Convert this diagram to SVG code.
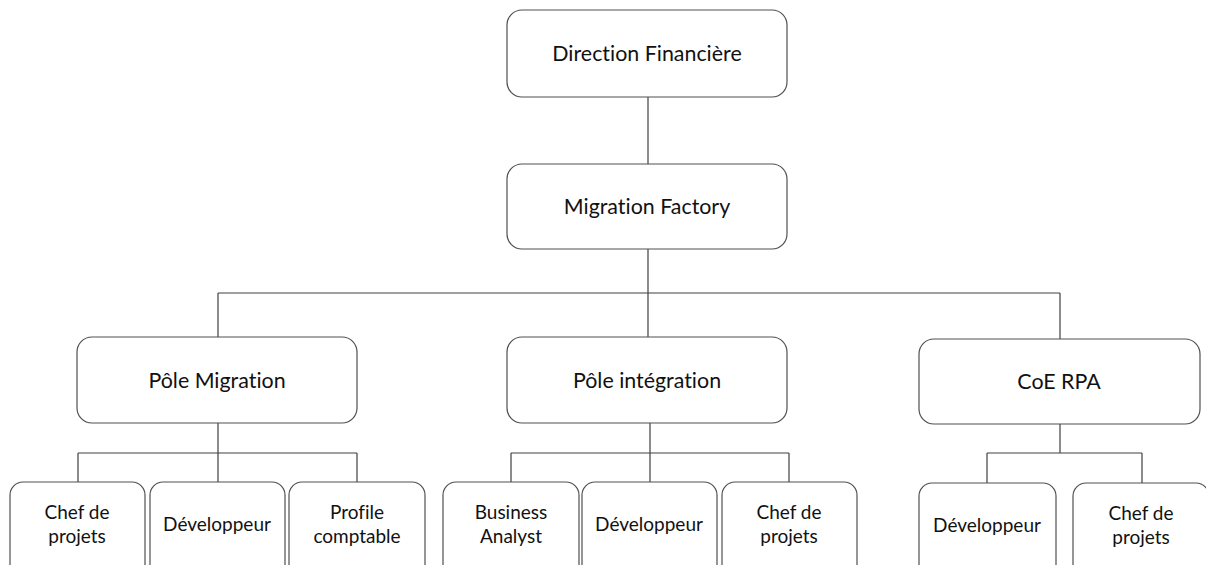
<svg xmlns="http://www.w3.org/2000/svg" width="1206" height="565" viewBox="0 0 1206 565">
  <style>
    .box { fill: #ffffff; stroke: #505050; stroke-width: 1.2; }
    .link { fill: none; stroke: #404040; stroke-width: 1.2; }
    text { font-family: "Lato", "Open Sans", sans-serif; font-size: 21.4px; fill: #111111; text-anchor: middle; font-variant-ligatures: none; }
    .small { font-size: 19px; }
  </style>
  <rect width="1206" height="565" fill="#ffffff"/>

  <!-- connectors -->
  <g id="connectors">
    <path class="link" d="M648 97 V164"/>
    <path class="link" d="M648 249 V293 M218 293 H1060 M218 293 V337 M648 293 V337 M1060 293 V339"/>
    <path class="link" d="M218 423 V482 M78 453 H357 M78 453 V482 M357 453 V482"/>
    <path class="link" d="M650 423 V482 M511 453 H789 M511 453 V482 M789 453 V482"/>
    <path class="link" d="M1060 424 V453 M987 453 H1142 M987 453 V483 M1142 453 V483"/>
  </g>

  <g id="direction-financiere">
    <rect class="box" x="507" y="10" width="280" height="87" rx="15"/>
    <text x="647" y="61">Direction Financière</text>
  </g>
  <g id="migration-factory">
    <rect class="box" x="507" y="164" width="280" height="85" rx="15"/>
    <text x="647" y="214">Migration Factory</text>
  </g>

  <g id="pole-migration">
    <rect class="box" x="77" y="337" width="280" height="86" rx="15"/>
    <text x="217" y="388">Pôle Migration</text>
  </g>
  <g id="pole-integration">
    <rect class="box" x="507" y="337" width="280" height="86" rx="15"/>
    <text x="647" y="388">Pôle intégration</text>
  </g>
  <g id="coe-rpa">
    <rect class="box" x="919" y="339" width="281" height="85" rx="15"/>
    <text x="1059" y="389">CoE RPA</text>
  </g>

  <!-- Pôle Migration team -->
  <g id="pm-chef-projets">
    <rect class="box" x="10" y="482" width="135" height="100" rx="13"/>
    <text class="small" x="77" y="519">Chef de</text>
    <text class="small" x="77" y="543">projets</text>
  </g>
  <g id="pm-developpeur">
    <rect class="box" x="150" y="482" width="135" height="100" rx="13"/>
    <text class="small" x="217" y="531">Développeur</text>
  </g>
  <g id="pm-profile-comptable">
    <rect class="box" x="289" y="482" width="136" height="100" rx="13"/>
    <text class="small" x="357" y="519">Profile</text>
    <text class="small" x="357" y="543">comptable</text>
  </g>

  <!-- Pôle intégration team -->
  <g id="pi-business-analyst">
    <rect class="box" x="443" y="482" width="136" height="100" rx="13"/>
    <text class="small" x="511" y="519">Business</text>
    <text class="small" x="511" y="543">Analyst</text>
  </g>
  <g id="pi-developpeur">
    <rect class="box" x="582" y="482" width="135" height="100" rx="13"/>
    <text class="small" x="649" y="531">Développeur</text>
  </g>
  <g id="pi-chef-projets">
    <rect class="box" x="722" y="482" width="135" height="100" rx="13"/>
    <text class="small" x="789" y="519">Chef de</text>
    <text class="small" x="789" y="543">projets</text>
  </g>

  <!-- CoE RPA team -->
  <g id="rpa-developpeur">
    <rect class="box" x="919" y="483" width="137" height="100" rx="13"/>
    <text class="small" x="987" y="532">Développeur</text>
  </g>
  <g id="rpa-chef-projets">
    <rect class="box" x="1073" y="483" width="136" height="100" rx="13"/>
    <text class="small" x="1141" y="520">Chef de</text>
    <text class="small" x="1141" y="544">projets</text>
  </g>
</svg>
